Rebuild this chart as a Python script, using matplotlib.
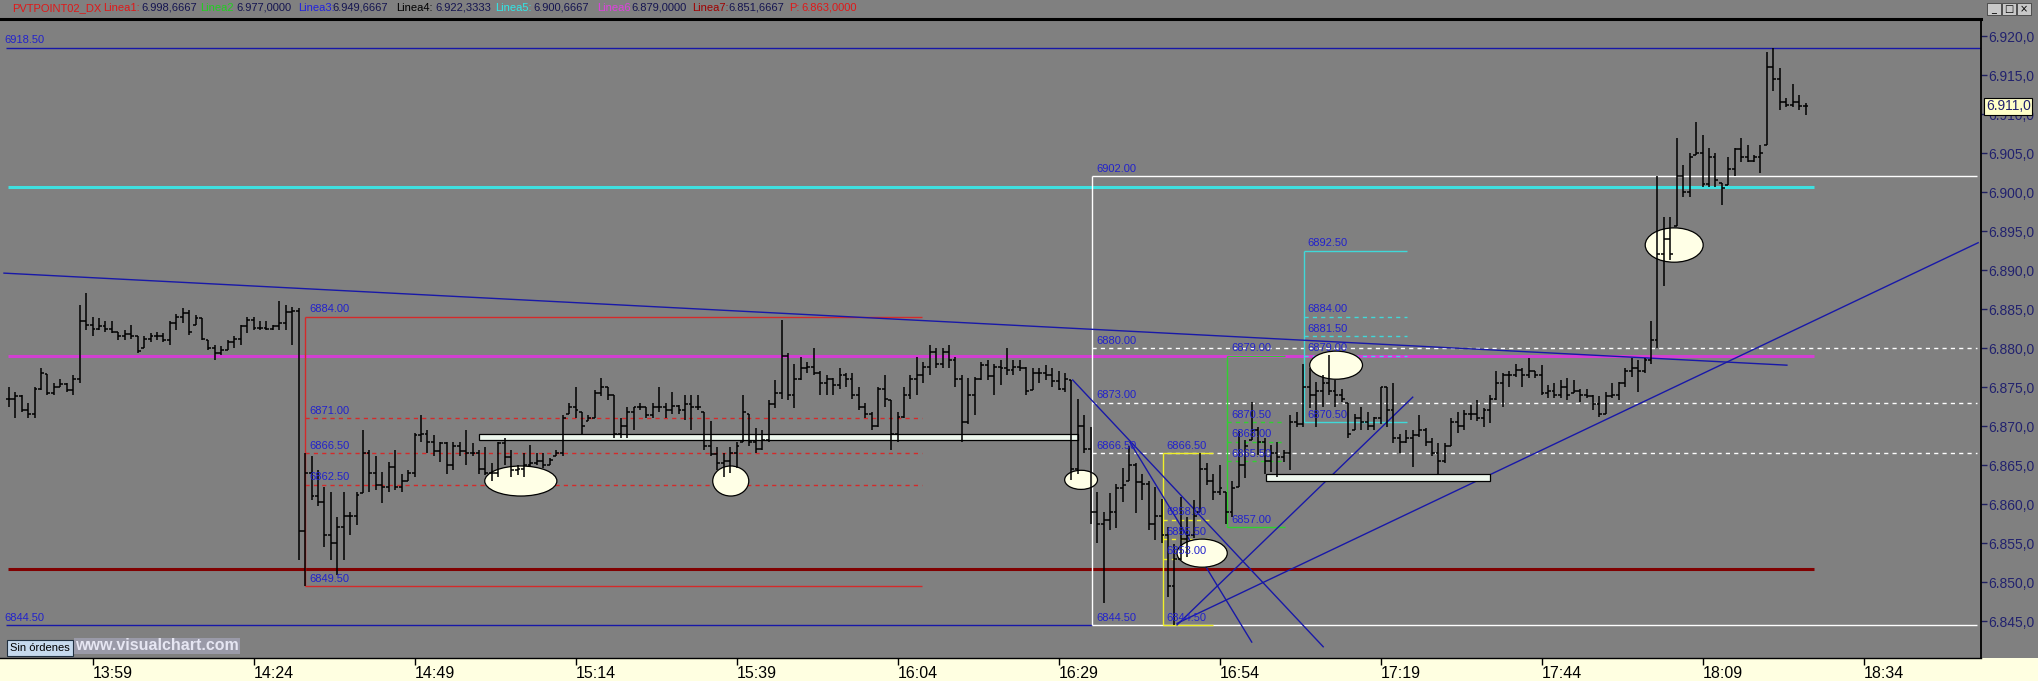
import matplotlib
matplotlib.use("Agg")
import numpy as np
import matplotlib.pyplot as plt
from matplotlib.patches import Ellipse, Rectangle
from matplotlib.transforms import blended_transform_factory

plt.rcParams['font.family'] = ['Liberation Sans', 'DejaVu Sans']

# one-minute bars, first bar 13:46
high = [6875.0, 6874.4, 6874.0, 6872.9, 6875.0, 6877.4, 6876.7, 6875.5, 6876.0, 6875.5,
        6876.5, 6885.5, 6887.0, 6884.0, 6883.8, 6883.4, 6883.4, 6882.1, 6882.3, 6883.0,
        6881.5, 6881.5, 6881.9, 6882.1, 6881.9, 6883.4, 6884.4, 6885.1, 6884.9, 6884.2,
        6883.8, 6881.0, 6880.4, 6880.2, 6881.0, 6881.5, 6883.0, 6884.0, 6884.0, 6883.4,
        6883.4, 6883.0, 6886.0, 6885.5, 6885.3, 6885.1, 6866.6, 6866.1, 6864.4, 6862.2,
        6861.6, 6858.4, 6861.6, 6859.0, 6861.6, 6869.5, 6866.9, 6866.1, 6864.1, 6865.4,
        6866.9, 6863.9, 6864.4, 6869.1, 6871.4, 6869.5, 6868.8, 6868.0, 6868.0, 6868.0,
        6868.0, 6869.5, 6867.8, 6866.9, 6867.3, 6865.2, 6868.0, 6868.4, 6866.9, 6865.0,
        6866.5, 6867.6, 6866.5, 6866.5, 6865.9, 6866.9, 6871.4, 6872.9, 6875.0, 6871.8,
        6871.4, 6874.6, 6876.1, 6875.0, 6874.0, 6871.0, 6872.5, 6872.5, 6872.9, 6872.5,
        6872.9, 6875.0, 6872.9, 6874.4, 6872.7, 6874.0, 6874.0, 6874.0, 6871.8, 6870.6,
        6867.3, 6866.5, 6867.3, 6868.0, 6874.0, 6871.6, 6869.7, 6869.5, 6873.3, 6875.9,
        6883.6, 6879.3, 6878.0, 6878.9, 6878.2, 6880.0, 6877.0, 6876.5, 6876.1, 6877.4,
        6876.8, 6876.8, 6875.0, 6872.9, 6871.8, 6875.0, 6876.5, 6873.3, 6871.8, 6875.0,
        6876.5, 6878.9, 6878.2, 6880.4, 6880.0, 6880.0, 6880.4, 6878.9, 6876.5, 6876.1,
        6876.3, 6878.2, 6878.4, 6878.0, 6878.4, 6880.0, 6878.4, 6878.4, 6877.6, 6877.4,
        6877.4, 6877.8, 6877.4, 6877.0, 6876.8, 6875.9, 6873.5, 6871.4, 6869.9, 6861.6,
        6859.0, 6861.4, 6862.6, 6864.6, 6867.4, 6865.2, 6863.9, 6862.9, 6862.2, 6860.7,
        6857.1, 6854.9, 6860.9, 6858.4, 6860.5, 6866.5, 6865.2, 6863.9, 6865.0, 6861.6,
        6862.9, 6869.3, 6868.2, 6873.1, 6869.9, 6868.4, 6867.6, 6868.0, 6866.9, 6871.4,
        6871.8, 6878.0, 6877.4, 6875.7, 6876.5, 6879.1, 6875.9, 6874.8, 6872.9, 6871.6,
        6872.5, 6871.8, 6871.2, 6875.0, 6875.0, 6875.5, 6869.0, 6869.5, 6869.5, 6871.4,
        6869.7, 6868.4, 6867.8, 6867.8, 6871.0, 6871.8, 6872.1, 6872.7, 6873.3, 6872.3,
        6874.0, 6877.0, 6876.8, 6877.0, 6878.0, 6877.4, 6878.7, 6877.0, 6877.8, 6875.3,
        6875.5, 6875.9, 6876.1, 6875.9, 6874.8, 6874.8, 6874.0, 6873.8, 6874.4, 6875.5,
        6875.7, 6877.4, 6878.7, 6878.5, 6878.7, 6883.4, 6902.0, 6896.8, 6896.8, 6906.9,
        6903.5, 6905.0, 6909.0, 6907.3, 6905.6, 6905.0, 6901.1, 6904.5, 6905.6, 6906.9,
        6906.0, 6904.7, 6906.0, 6918.0, 6918.4, 6915.9, 6912.0, 6913.9, 6912.4, 6911.4]
low = [6872.5, 6871.0, 6871.8, 6871.0, 6871.0, 6874.6, 6874.0, 6874.0, 6875.0, 6874.4,
       6874.0, 6875.5, 6882.3, 6881.5, 6882.3, 6882.1, 6881.9, 6881.0, 6881.0, 6881.2,
       6879.3, 6880.0, 6880.8, 6881.0, 6880.8, 6880.4, 6882.3, 6883.2, 6881.7, 6883.0,
       6881.0, 6879.7, 6878.5, 6879.1, 6879.7, 6880.0, 6880.4, 6881.9, 6882.3, 6882.3,
       6882.3, 6882.3, 6882.3, 6882.3, 6880.4, 6852.8, 6849.5, 6860.5, 6859.7, 6854.5,
       6852.8, 6850.9, 6852.8, 6856.0, 6857.3, 6861.4, 6861.6, 6861.8, 6860.1, 6861.6,
       6861.8, 6861.6, 6862.9, 6863.5, 6868.0, 6866.5, 6866.1, 6865.4, 6863.9, 6864.4,
       6866.1, 6865.0, 6866.1, 6863.9, 6863.7, 6862.9, 6863.5, 6865.0, 6863.5, 6863.7,
       6863.5, 6864.8, 6865.0, 6864.6, 6865.0, 6866.1, 6866.1, 6871.6, 6871.0, 6869.0,
       6870.6, 6871.0, 6873.8, 6873.3, 6868.4, 6868.4, 6868.4, 6869.5, 6872.1, 6871.0,
       6871.0, 6871.8, 6871.0, 6871.6, 6871.6, 6870.8, 6869.5, 6872.1, 6866.9, 6866.1,
       6864.4, 6863.5, 6864.0, 6864.6, 6868.0, 6867.4, 6866.5, 6866.9, 6868.0, 6872.3,
       6873.5, 6873.3, 6872.3, 6875.9, 6876.8, 6876.5, 6874.0, 6874.0, 6874.0, 6874.8,
       6875.0, 6873.5, 6872.0, 6871.0, 6869.5, 6869.9, 6872.5, 6866.9, 6868.0, 6871.0,
       6873.5, 6874.0, 6875.5, 6876.5, 6877.4, 6877.4, 6877.4, 6875.0, 6868.0, 6870.3,
       6871.4, 6875.9, 6875.9, 6874.0, 6875.3, 6876.5, 6876.5, 6877.0, 6874.0, 6874.6,
       6875.5, 6875.9, 6875.0, 6874.6, 6874.4, 6863.1, 6863.9, 6866.5, 6857.5, 6855.0,
       6847.3, 6856.7, 6856.9, 6860.3, 6862.9, 6858.8, 6860.5, 6856.7, 6855.4, 6855.0,
       6848.1, 6844.5, 6852.8, 6853.2, 6855.6, 6859.0, 6862.4, 6860.5, 6861.2, 6857.5,
       6858.4, 6862.2, 6863.3, 6868.2, 6866.3, 6863.9, 6864.1, 6863.5, 6865.4, 6864.4,
       6869.9, 6869.9, 6872.3, 6869.9, 6872.5, 6874.0, 6872.5, 6873.1, 6868.4, 6869.5,
       6869.5, 6869.5, 6869.5, 6870.3, 6869.9, 6867.8, 6866.5, 6867.8, 6864.8, 6868.6,
       6867.4, 6866.1, 6863.9, 6865.2, 6867.4, 6869.1, 6869.5, 6870.8, 6870.6, 6869.9,
       6870.4, 6873.3, 6872.5, 6875.0, 6876.3, 6875.0, 6876.1, 6876.1, 6874.0, 6873.6,
       6873.6, 6873.6, 6873.3, 6874.2, 6873.1, 6873.6, 6872.1, 6871.2, 6871.6, 6873.6,
       6873.3, 6875.0, 6876.3, 6874.4, 6876.8, 6878.0, 6880.0, 6887.9, 6891.3, 6895.6,
       6899.4, 6899.4, 6904.7, 6900.7, 6900.7, 6900.7, 6898.3, 6900.9, 6902.0, 6903.9,
       6903.9, 6903.9, 6902.4, 6906.0, 6912.9, 6910.5, 6910.9, 6910.9, 6910.5, 6909.9]
close = [6873.5, 6873.8, 6872.0, 6871.5, 6874.8, 6876.8, 6874.2, 6875.0, 6875.4, 6874.6,
         6876.0, 6883.5, 6883.0, 6882.5, 6882.8, 6882.5, 6882.0, 6881.5, 6881.8, 6881.5,
         6879.6, 6881.2, 6881.5, 6881.5, 6881.0, 6883.2, 6884.0, 6884.5, 6882.0, 6883.8,
         6881.2, 6880.0, 6879.4, 6879.8, 6880.8, 6881.2, 6882.8, 6883.6, 6882.6, 6882.6,
         6882.5, 6882.8, 6883.2, 6884.6, 6884.8, 6856.5, 6864.0, 6861.0, 6860.2, 6856.0,
         6855.0, 6857.0, 6858.5, 6858.5, 6861.2, 6866.5, 6864.0, 6862.5, 6862.2, 6864.8,
         6862.2, 6863.0, 6864.0, 6868.8, 6869.0, 6868.0, 6866.8, 6867.8, 6865.0, 6867.5,
         6866.8, 6866.5, 6866.5, 6864.5, 6864.0, 6864.0, 6867.8, 6866.0, 6864.4, 6864.5,
         6865.0, 6865.2, 6865.5, 6865.0, 6865.6, 6866.5, 6871.0, 6872.4, 6872.0, 6870.0,
         6871.0, 6874.2, 6875.0, 6874.0, 6869.0, 6870.0, 6871.8, 6872.4, 6872.4, 6871.4,
         6872.4, 6872.4, 6872.0, 6872.6, 6872.0, 6872.8, 6872.4, 6872.5, 6867.5, 6866.4,
         6865.2, 6865.5, 6866.5, 6867.5, 6871.8, 6868.0, 6867.0, 6868.2, 6872.8, 6874.2,
         6879.0, 6874.0, 6876.0, 6877.5, 6877.6, 6876.8, 6875.5, 6876.0, 6875.2, 6876.6,
         6876.0, 6874.0, 6872.5, 6871.5, 6870.0, 6874.8, 6873.5, 6869.0, 6871.2, 6874.0,
         6876.0, 6876.5, 6877.6, 6879.5, 6878.0, 6879.5, 6878.5, 6876.0, 6870.5, 6874.0,
         6876.0, 6877.8, 6876.4, 6877.6, 6877.5, 6877.2, 6877.6, 6877.5, 6874.5, 6876.8,
         6876.8, 6876.5, 6875.8, 6874.8, 6876.0, 6864.5, 6870.0, 6867.0, 6859.0, 6857.5,
         6858.0, 6859.0, 6862.0, 6862.5, 6865.0, 6862.8, 6862.6, 6857.5, 6858.5, 6856.0,
         6849.5, 6853.0, 6855.5, 6856.0, 6858.5, 6864.5, 6863.0, 6861.5, 6862.0, 6859.0,
         6862.0, 6865.0, 6867.5, 6869.5, 6868.0, 6865.5, 6866.5, 6866.0, 6866.5, 6870.5,
         6870.3, 6875.0, 6874.0, 6874.5, 6875.5, 6874.5, 6874.0, 6873.5, 6869.0, 6871.0,
         6870.5, 6870.0, 6871.0, 6875.0, 6872.0, 6868.5, 6868.0, 6868.5, 6868.8, 6869.5,
         6868.0, 6866.5, 6865.5, 6867.5, 6870.5, 6870.0, 6871.5, 6871.5, 6871.0, 6872.0,
         6873.5, 6875.5, 6876.5, 6876.5, 6877.2, 6876.5, 6877.0, 6876.5, 6874.2, 6874.5,
         6874.0, 6875.0, 6874.0, 6874.5, 6874.0, 6873.8, 6872.8, 6871.5, 6873.8, 6874.0,
         6875.5, 6877.0, 6877.5, 6877.0, 6878.5, 6881.0, 6892.0, 6894.0, 6892.0, 6902.0,
         6900.0, 6904.5, 6905.0, 6901.0, 6904.5, 6901.5, 6900.5, 6903.0, 6905.5, 6904.5,
         6904.0, 6904.5, 6905.0, 6916.0, 6914.5, 6911.5, 6911.2, 6911.5, 6911.0, 6911.0]

time_ticks = [13, 38, 63, 88, 113, 138, 163, 188, 213, 238, 263, 288]
time_labels = ['13:59', '14:24', '14:49', '15:14', '15:39', '16:04',
               '16:29', '16:54', '17:19', '17:44', '18:09', '18:34']
price_ticks = [6845, 6850, 6855, 6860, 6865, 6870, 6875, 6880, 6885, 6890,
               6895, 6900, 6905, 6910, 6915, 6920]
last_price = 6911.0

# pivot lines
linea5 = 6900.6667
linea6 = 6879.0
linea7 = 6851.6667
top_level = 6918.5
low_level = 6844.5

# fibonacci retracements: levels (top..bottom), first bar, last bar
fib_white = [6902.0, 6880.0, 6873.0, 6866.5, 6844.5]
fib_white_span = (168.2, 305.6)
fib_red = [6884.0, 6871.0, 6866.5, 6862.5, 6849.5]
fib_red_span = (46.0, 141.8)
fib_yellow = [6866.5, 6858.0, 6855.5, 6853.0, 6844.5]
fib_yellow_span = (179.2, 187.0)
fib_green = [6879.0, 6870.5, 6868.0, 6865.5, 6857.0]
fib_green_span = (189.2, 198.2)
fib_cyan = [6892.5, 6884.0, 6881.5, 6879.0, 6870.5]
fib_cyan_span = (201.1, 217.1)

# trend lines: (bar, price) -> (bar, price)
trend_lines = [((-0.75, 6889.6), (276.1, 6877.8)),
               ((165.2, 6875.9), (204.1, 6841.7)),
               ((174.1, 6867.9), (193.0, 6842.3)),
               ((181.4, 6844.5), (218.0, 6873.7)),
               ((181.4, 6844.7), (305.8, 6893.5))]

# support zones: first bar, last bar, low, high
zones = [(73.0, 166.0, 6868.2, 6869.0), (195.2, 230.0, 6863.0, 6863.9)]

# marked ellipses: bar, price, width (bars), height (points)
marks = [(79.5, 6862.95, 11.2, 3.85), (112.1, 6862.95, 5.6, 3.85),
         (166.5, 6863.1, 5.1, 2.45), (185.3, 6853.7, 7.8, 3.6),
         (206.1, 6877.8, 8.2, 3.6), (258.6, 6893.2, 9.0, 4.4)]

W, H = 2038, 681
GRAY = '#808080'
NAVY = '#1818A8'
LBL = '#2222CC'

fig = plt.figure(figsize=(W / 100, H / 100), dpi=100, facecolor=GRAY)
fig.patches.append(Rectangle((0, 0), 1, 23 / H, transform=fig.transFigure,
                             facecolor='#FFFFE1', edgecolor='none', zorder=-1))
ax = fig.add_axes([0, 23 / H, 1981 / W, (658 - 19) / H])
ax.set_facecolor(GRAY)
ax.set_xlim(-1.37, 306.24)
ax.set_ylim(6840.26, 6922.18)

# bars
x = np.arange(len(high))
hi = np.array(high)
lo = np.array(low)
cl = np.array(close)
op = np.clip(np.concatenate([[cl[0]], cl[:-1]]), lo, hi)
ax.vlines(x, lo, hi, color='black', lw=1.1, zorder=5)
ax.hlines(op, x - 0.45, x, color='black', lw=1.1, zorder=5)
ax.hlines(cl, x, x + 0.45, color='black', lw=1.1, zorder=5)

# pivot lines
ax.hlines(top_level, -0.4, 306.3, color=NAVY, lw=1.0, zorder=2)
ax.hlines(low_level, -0.4, fib_white_span[0], color=NAVY, lw=1.0, zorder=2)
ax.hlines(linea5, -0.1, 280.3, color='#3FE0E0', lw=2.2, zorder=2)
ax.hlines(linea6, -0.1, 280.3, color='#D23FD2', lw=2.2, zorder=2)
ax.hlines(linea7, -0.1, 280.3, color='#800000', lw=2.2, zorder=2)


def label(xv, yv, s):
    ax.text(xv, yv + 0.3, s, color=LBL, fontsize=8, va='bottom', ha='left', zorder=7)


label(-0.75, top_level, f"{top_level:.2f}")
label(-0.75, low_level, f"{low_level:.2f}")


def fib(levels, span, color):
    a, b = span
    ax.vlines(a, levels[-1], levels[0], color=color, lw=1.0, zorder=3)
    ax.hlines([levels[0], levels[-1]], a, b, color=color, lw=1.0, zorder=3)
    ax.hlines(levels[1:4], a, b, color=color, lw=1.0, linestyles=(0, (3, 3)), zorder=3)
    for lv in levels:
        label(a + 0.6, lv, f"{lv:.2f}")


fib(fib_white, fib_white_span, 'white')
fib(fib_red, fib_red_span, '#D42A2A')
fib(fib_yellow, fib_yellow_span, '#F0F028')
fib(fib_green, fib_green_span, '#30D030')
fib(fib_cyan, fib_cyan_span, '#40D8D8')

for (x0, y0), (x1, y1) in trend_lines:
    ax.plot([x0, x1], [y0, y1], color=NAVY, lw=1.0, zorder=4)

for a, b, lo_, hi_ in zones:
    ax.add_patch(Rectangle((a, lo_), b - a, hi_ - lo_, facecolor='#EEF8EE',
                           edgecolor='black', lw=0.9, zorder=4))

for cx, cy, w, h in marks:
    ax.add_patch(Ellipse((cx, cy), w, h, facecolor='#FFFFE6', edgecolor='black',
                         lw=0.9, zorder=4.5))

# axes styling
ax.spines['left'].set_visible(False)
ax.spines['top'].set_linewidth(2.2)
ax.spines['right'].set_linewidth(1.3)
ax.spines['bottom'].set_linewidth(1.0)
for s in ['top', 'right', 'bottom']:
    ax.spines[s].set_color('black')

ax.yaxis.tick_right()
ax.set_yticks(price_ticks)
ax.set_yticklabels([f"{p // 1000}.{p % 1000:03d},0" for p in price_ticks])
ax.tick_params(axis='y', direction='out', length=4, width=1, color='#202060',
               labelcolor='#22226E', labelsize=10, pad=1)
ax.set_xticks(time_ticks)
ax.set_xticklabels(time_labels, family=['Liberation Sans Narrow', 'Liberation Sans'])
ax.tick_params(axis='x', direction='out', length=5, width=1, color='black',
               labelcolor='black', labelsize=11.5, pad=1)
for t in ax.get_xticklabels():
    t.set_ha('left')

# current price box
tr = blended_transform_factory(ax.transAxes, ax.transData)
ax.text(1.0025, last_price, f"{int(last_price) // 1000}.{int(last_price) % 1000:03d},0",
        transform=tr, fontsize=10, color='#22226E', va='center', ha='left', zorder=8,
        clip_on=False,
        bbox=dict(boxstyle='square,pad=0.12', facecolor='#FFFFC8', edgecolor='black', lw=0.8))

# header
header = [("PVTPOINT02_DX", 12, '#E01818'), ("Linea1:", 103, '#E01818'),
          ("6.998,6667", 141, '#141450'), ("Linea2", 200, '#20D020'),
          ("6.977,0000", 236, '#141450'), ("Linea3:", 298, '#2020E0'),
          ("6.949,6667", 332, '#141450'), ("Linea4:", 396, 'black'),
          ("6.922,3333", 435, '#141450'), ("Linea5:", 495, '#30E8E8'),
          ("6.900,6667", 533, '#141450'), ("Linea6", 597, '#E040E0'),
          ("6.879,0000", 631, '#141450'), ("Linea7:", 692, '#A00000'),
          ("6.851,6667", 728, '#141450'), ("P:", 789, '#E01818'),
          ("6.863,0000", 801, '#E01818')]
for s, px, c in header:
    fig.text(px / W, 1 - 8 / H, s, color=c, fontsize=8, va='center', ha='left',
             family=['Liberation Sans Narrow', 'Liberation Sans'])

# window buttons
for k, g in enumerate(['_', '□', '×']):
    fig.patches.append(Rectangle(((1987 + 15 * k) / W, 1 - 15 / H), 14 / W, 12 / H,
                                 transform=fig.transFigure, facecolor='#C8C8C8',
                                 edgecolor='#404040', lw=0.6))
    fig.text((1994 + 15 * k) / W, 1 - 9 / H, g, fontsize=7, ha='center', va='center',
             color='black', family=['DejaVu Sans'])

# status box and watermark
fig.text(10 / W, 1 - 648 / H, "Sin órdenes", fontsize=8, color='black', va='center',
         ha='left', family=['Liberation Sans Narrow', 'Liberation Sans'],
         bbox=dict(boxstyle='square,pad=0.25', facecolor='#C6DAEE', edgecolor='#203040', lw=0.8))
fig.text(75 / W, 1 - 646 / H, "www.visualchart.com", fontsize=11.5, fontweight='bold',
         color='#E6E6F2', va='center', ha='left',
         bbox=dict(boxstyle='square,pad=0.05', facecolor='#9A9AA8', edgecolor='none'))

fig.savefig('out.png', dpi=100, facecolor=fig.get_facecolor())
